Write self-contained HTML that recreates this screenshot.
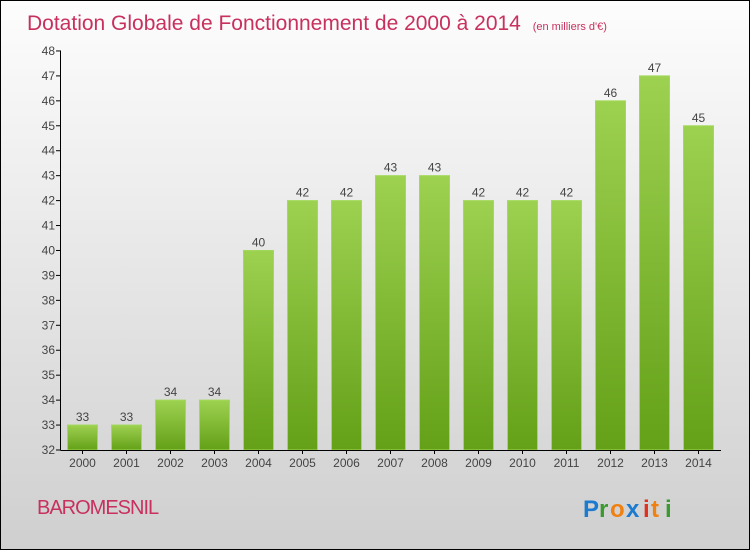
<!DOCTYPE html>
<html><head><meta charset="utf-8"><style>
body{margin:0;}
#wrap{position:relative;width:748px;height:548px;border:1px solid #000;background:linear-gradient(#fdfdfd,#cfcfcf);font-family:"Liberation Sans",sans-serif;overflow:hidden}
</style></head><body>
<div id="wrap">
<svg width="748" height="548" id="svg">
<defs><linearGradient id="g" x1="0" y1="0" x2="0" y2="1"><stop offset="0" stop-color="#9dd150"/><stop offset="1" stop-color="#64a018"/></linearGradient></defs>
<text x="26" y="29" font-size="21" fill="#c8305e">Dotation Globale de Fonctionnement de 2000 à 2014 <tspan font-size="11" dx="6">(en milliers d'€)</tspan></text>
<text x="36" y="513" font-size="20" fill="#c8305e" letter-spacing="-1">BAROMESNIL</text>
<g font-size="24" font-weight="bold"><text x="582" y="516" fill="#1b7bd0">P</text><text x="598" y="516" fill="#3a9a30">r</text><text x="609" y="516" fill="#f08010">o</text><text x="625" y="516" fill="#1b7bd0">x</text><text x="642" y="516" fill="#e03020">i</text><text x="650" y="516" fill="#f08010">t</text><text x="664" y="516" fill="#3a9a30">i</text></g>
<g id="plot"></g>
</svg></div>
<script>
const years=["2000","2001","2002","2003","2004","2005","2006","2007","2008","2009","2010","2011","2012","2013","2014"];
const values=[33,33,34,34,40,42,42,43,43,42,42,42,46,47,45];
const yTicks=[32,33,34,35,36,37,38,39,40,41,42,43,44,45,46,47,48];
const NS="http://www.w3.org/2000/svg";
const g=document.getElementById('plot');
const y=v=>449-(v-32)*24.94;
const x=i=>66+i*44;
function mk(t,a){const e=document.createElementNS(NS,t);for(const k in a)e.setAttribute(k,a[k]);g.appendChild(e);return e;}
yTicks.forEach(t=>{
const l=mk('line',{x1:55,x2:60,y1:y(t),y2:y(t),stroke:'#000'});


const tx=mk('text',{x:54,y:y(t)+4,'text-anchor':'end','font-size':12,fill:'#444'});tx.textContent=t;


});
values.forEach((v,i)=>{
const r=mk('rect',{x:x(i)+0.5,y:y(v),width:30,height:449-y(v),fill:'url(#g)',stroke:'#a3d95a'});


const lb=mk('text',{x:x(i)+15.5,y:y(v)-4,'text-anchor':'middle','font-size':12,fill:'#444'});lb.textContent=v;


const xl=mk('text',{x:x(i)+15.5,y:466,'text-anchor':'middle','font-size':12,fill:'#444'});xl.textContent=years[i];


const tk=mk('line',{x1:x(i)+15.5,x2:x(i)+15.5,y1:449,y2:453,stroke:'#000'});


});
const ya=mk('line',{x1:59.5,x2:59.5,y1:y(48),y2:449.5,stroke:'#000'});


const xa=mk('line',{x1:59.5,x2:720,y1:449.5,y2:449.5,stroke:'#000'});


</script>
</body></html>
